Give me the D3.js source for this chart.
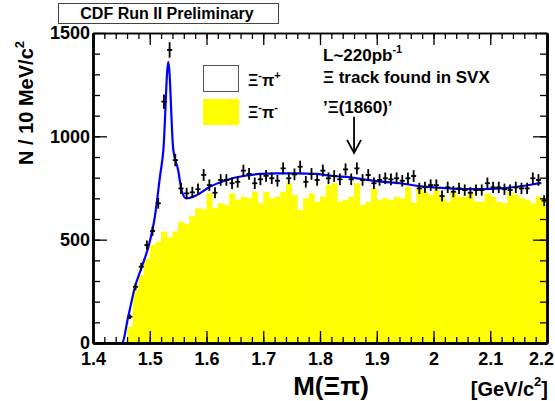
<!DOCTYPE html>
<html>
    <head>
        <meta charset="utf-8">
        <script src="https://cdn.jsdelivr.net/npm/d3@7"></script>
        <style>
            body { margin: 0; background: white; }
            text { font-family: "Liberation Sans", Arial, sans-serif; font-weight: bold; fill: black; }
            .axis path, .axis line { stroke: black; }
        </style>
    </head>
    <body>
        <svg id="container" width="555" height="401"></svg>
    </body>
    <script>
        // histogram binning: 10 MeV bins from 1.40 to 2.20 GeV
        let binLow = 1.40;
        let binWidth = 0.01;

        // Xi- pi+ (right sign) counts, bins 0..79
        let rightSign = [0, 0, 0, 0, 0, 0, 127, 272, 369, 474,
            542, 676, 1168, 1418, 885, 748, 724, 729, 744, 813,
            764, 727, 789, 789, 773, 780, 834, 818, 773, 792,
            809, 797, 785, 845, 797, 816, 853, 780, 818, 789,
            834, 797, 808, 792, 840, 792, 845, 789, 813, 773,
            789, 797, 792, 797, 785, 797, 808, 748, 753, 764,
            764, 711, 753, 732, 748, 740, 727, 740, 740, 773,
            753, 753, 744, 740, 753, 748, 748, 797, 789, 689];

        // Xi- pi- (wrong sign) counts, bins 0..79
        let wrongSign = [0, 0, 0, 0, 0, 0, 79, 256, 329, 410,
            474, 490, 539, 511, 539, 587, 576, 614, 652, 647,
            724, 652, 676, 668, 724, 692, 708, 700, 732, 676,
            732, 700, 708, 732, 773, 716, 643, 700, 724, 684,
            708, 764, 773, 684, 692, 708, 773, 668, 684, 748,
            692, 700, 692, 708, 700, 756, 679, 756, 732, 716,
            748, 716, 684, 732, 708, 708, 724, 684, 684, 724,
            708, 684, 676, 732, 716, 700, 692, 676, 708, 700];

        // fitted curve
        let fitMass = [1.40, 1.451, 1.462, 1.474, 1.486, 1.500, 1.509, 1.518, 1.524, 1.5327,
            1.5415, 1.550, 1.556, 1.564, 1.583, 1.606, 1.636, 1.665, 1.694, 1.724,
            1.759, 1.794, 1.823, 1.853, 1.882, 1.912, 1.941, 1.970, 2.000, 2.029,
            2.058, 2.088, 2.117, 2.147, 2.176, 2.19];
        let fitValue = [0, 0, 127, 272, 369, 490, 611, 805, 934, 1361,
            934, 837, 740, 700, 716, 756, 789, 808, 818, 821,
            821, 818, 808, 802, 789, 780, 773, 761, 753, 748,
            745, 745, 748, 756, 768, 775];

        let xMajor = [1.4, 1.5, 1.6, 1.7, 1.8, 1.9, 2.0, 2.1, 2.2];
        let yMajor = [0, 500, 1000, 1500];

        let arrowMass = 1.86;
        let arrowFrom = 1095;
        let arrowTo = 920;

        let svg = d3.select("#container");
        let frame = {left: 93, right: 547, top: 33, bottom: 343};

        let x = d3.scaleLinear().domain([1.4, 2.2]).range([frame.left, frame.right]);
        let y = d3.scaleLinear().domain([0, 1500]).range([frame.bottom, frame.top]);

        // wrong sign histogram (yellow)
        svg.append("g").selectAll("rect")
            .data(wrongSign)
            .enter()
            .append("rect")
            .attr("x", (d, i) => x(binLow + i * binWidth))
            .attr("width", (d, i) => x(binLow + (i + 1) * binWidth) - x(binLow + i * binWidth) + 0.4)
            .attr("y", d => y(d))
            .attr("height", d => y(0) - y(d))
            .attr("fill", "#ffff00");

        // fit
        let line = d3.line()
            .x((d, i) => x(fitMass[i]))
            .y(d => y(d))
            .curve(d3.curveMonotoneX);
        svg.append("path")
            .attr("d", line(fitValue))
            .attr("fill", "none")
            .attr("stroke", "#0000ff")
            .attr("stroke-width", 2.2);

        // right sign data with errors
        let points = rightSign.map((d, i) => ({m: binLow + (i + 0.5) * binWidth, n: d, i: i}))
            .filter(d => d.n > 0);
        let crosses = svg.append("g")
            .attr("stroke", "black")
            .attr("stroke-width", 1.8);
        crosses.selectAll(".ev")
            .data(points)
            .enter()
            .append("line")
            .attr("x1", d => x(d.m))
            .attr("x2", d => x(d.m))
            .attr("y1", d => y(d.n + Math.sqrt(d.n)))
            .attr("y2", d => y(d.n - Math.sqrt(d.n)));
        crosses.selectAll(".eh")
            .data(points)
            .enter()
            .append("line")
            .attr("x1", d => x(d.m - binWidth / 2) + 0.3)
            .attr("x2", d => x(d.m + binWidth / 2) - 0.3)
            .attr("y1", d => y(d.n))
            .attr("y2", d => y(d.n));

        // axes, ticks pointing inwards
        let fmt = d => String(+d.toFixed(1));
        let xMinor = x.ticks(40);
        let yMinor = y.ticks(15);

        function styleAxis(g, width) {
            g.attr("class", "axis");
            g.select(".domain").attr("stroke-width", width);
            g.selectAll(".tick line").attr("stroke-width", 1.3);
        }

        svg.append("g")
            .attr("transform", `translate(0,${frame.bottom})`)
            .call(d3.axisBottom(x).tickValues(xMinor).tickSize(-6).tickSizeOuter(0).tickFormat(""))
            .call(g => styleAxis(g, 2.5));
        let xLabels = svg.append("g")
            .attr("transform", `translate(0,${frame.bottom})`)
            .call(d3.axisBottom(x).tickValues(xMajor).tickSize(-12).tickSizeOuter(0).tickPadding(9).tickFormat(fmt))
            .call(g => styleAxis(g, 2.5))
            .selectAll("text")
            .attr("font-size", 18)
            .attr("font-family", "Liberation Sans, Arial, sans-serif");
        // last label is pulled in so that it stays inside the canvas
        xLabels.filter(d => d === 2.2).attr("dx", -6);

        svg.append("g")
            .attr("transform", `translate(0,${frame.top})`)
            .call(d3.axisTop(x).tickValues(xMinor).tickSize(-6).tickSizeOuter(0).tickFormat(""))
            .call(g => styleAxis(g, 1.5));
        svg.append("g")
            .attr("transform", `translate(0,${frame.top})`)
            .call(d3.axisTop(x).tickValues(xMajor).tickSize(-12).tickSizeOuter(0).tickFormat(""))
            .call(g => styleAxis(g, 1.5));

        svg.append("g")
            .attr("transform", `translate(${frame.left},0)`)
            .call(d3.axisLeft(y).tickValues(yMinor).tickSize(-7).tickSizeOuter(0).tickFormat(""))
            .call(g => styleAxis(g, 2.5));
        svg.append("g")
            .attr("transform", `translate(${frame.left},0)`)
            .call(d3.axisLeft(y).tickValues(yMajor).tickSize(-14).tickSizeOuter(0).tickPadding(3).tickFormat(d3.format("d")))
            .call(g => styleAxis(g, 2.5))
            .selectAll("text")
            .attr("font-size", 18)
            .attr("font-family", "Liberation Sans, Arial, sans-serif");

        svg.append("g")
            .attr("transform", `translate(${frame.right},0)`)
            .call(d3.axisRight(y).tickValues(yMinor).tickSize(-7).tickSizeOuter(0).tickFormat(""))
            .call(g => styleAxis(g, 2.5));
        svg.append("g")
            .attr("transform", `translate(${frame.right},0)`)
            .call(d3.axisRight(y).tickValues(yMajor).tickSize(-14).tickSizeOuter(0).tickFormat(""))
            .call(g => styleAxis(g, 2.5));

        // axis titles
        let yTitle = svg.append("text")
            .attr("transform", "translate(33,103) rotate(-90)")
            .attr("text-anchor", "middle")
            .attr("font-size", 20);
        yTitle.append("tspan").text("N / 10 MeV/c");
        yTitle.append("tspan").attr("font-size", 13).attr("dy", -9).text("2");

        svg.append("text")
            .attr("x", 331)
            .attr("y", 395)
            .attr("text-anchor", "middle")
            .attr("font-size", 26)
            .text("M(Ξπ)");

        let unit = svg.append("text")
            .attr("x", 548)
            .attr("y", 396)
            .attr("text-anchor", "end")
            .attr("font-size", 20);
        unit.append("tspan").text("[GeV/c");
        unit.append("tspan").attr("font-size", 13).attr("dy", -10).text("2");
        unit.append("tspan").attr("dy", 10).text("]");

        // title box
        svg.append("rect")
            .attr("x", 58.5).attr("y", 3.5)
            .attr("width", 220).attr("height", 20)
            .attr("fill", "white")
            .attr("stroke", "#444");
        svg.append("text")
            .attr("x", 167).attr("y", 19)
            .attr("text-anchor", "middle")
            .attr("font-size", 16)
            .text("CDF Run II Preliminary");

        // legend
        let legend = svg.append("g");
        legend.append("rect")
            .attr("x", 203.5).attr("y", 65.5)
            .attr("width", 35).attr("height", 26)
            .attr("fill", "white")
            .attr("stroke", "#555");
        legend.append("rect")
            .attr("x", 203).attr("y", 99)
            .attr("width", 36).attr("height", 26)
            .attr("fill", "#ffff00");
        let l1 = legend.append("text").attr("x", 248).attr("y", 86).attr("font-size", 16).attr("font-weight", "normal");
        l1.append("tspan").text("Ξ");
        l1.append("tspan").attr("font-size", 11).attr("dy", -7).text("-");
        l1.append("tspan").attr("dy", 7).text("π");
        l1.append("tspan").attr("font-size", 11).attr("dy", -7).text("+");
        let l2 = legend.append("text").attr("x", 248).attr("y", 118).attr("font-size", 16).attr("font-weight", "normal");
        l2.append("tspan").text("Ξ");
        l2.append("tspan").attr("font-size", 11).attr("dy", -7).text("-");
        l2.append("tspan").attr("dy", 7).text("π");
        l2.append("tspan").attr("font-size", 11).attr("dy", -7).text("-");

        // annotations
        let lumi = svg.append("text").attr("x", 323).attr("y", 61).attr("font-size", 17);
        lumi.append("tspan").text("L~220pb");
        lumi.append("tspan").attr("font-size", 11).attr("dy", -8).text("-1");
        svg.append("text").attr("x", 323).attr("y", 83).attr("font-size", 17)
            .text("Ξ track found in SVX");
        svg.append("text").attr("x", 323).attr("y", 113).attr("font-size", 17)
            .text("’Ξ(1860)’");

        let arrow = svg.append("g")
            .attr("stroke", "black")
            .attr("stroke-width", 1.8)
            .attr("fill", "none");
        arrow.append("line")
            .attr("x1", x(arrowMass)).attr("x2", x(arrowMass))
            .attr("y1", y(arrowFrom)).attr("y2", y(arrowTo));
        arrow.append("path")
            .attr("d", `M${x(arrowMass) - 7},${y(arrowTo) - 13} L${x(arrowMass)},${y(arrowTo)} L${x(arrowMass) + 7},${y(arrowTo) - 13}`);
    </script>
</html>
